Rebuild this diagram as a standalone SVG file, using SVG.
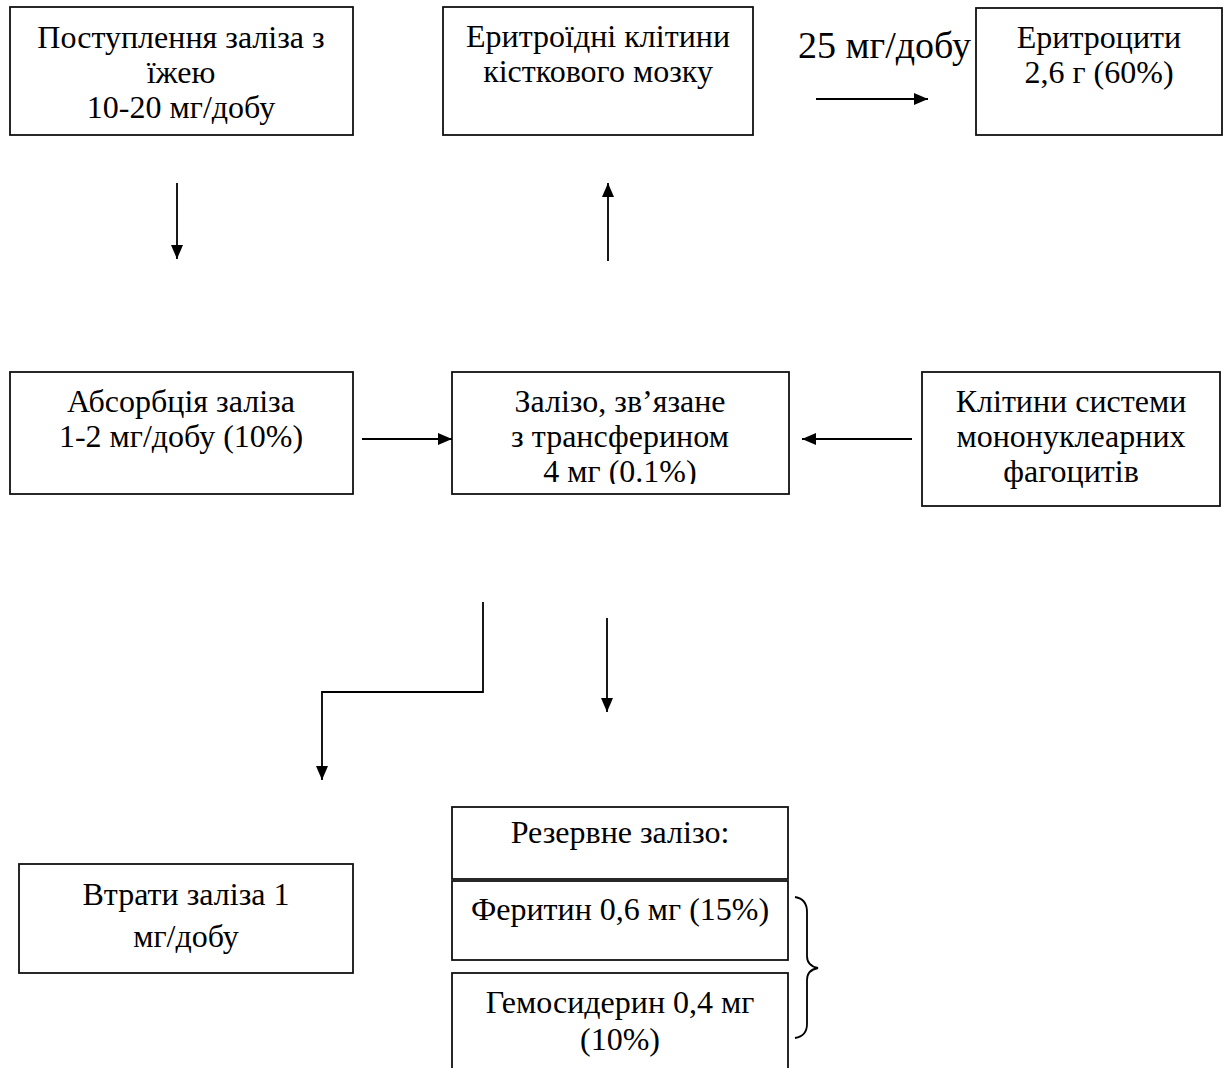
<svg xmlns="http://www.w3.org/2000/svg" width="1227" height="1068" viewBox="0 0 1227 1068">
<style>
.box{fill:#fff;stroke:#111;stroke-width:1.8}
.t{font-family:"Liberation Serif","Times New Roman",serif;font-size:32px;fill:#000;text-anchor:middle}
.big{font-size:38px;text-anchor:start}
.c{fill:none;stroke:#000;stroke-width:1.8}
</style>
<defs>
<marker id="ah" viewBox="0 0 14 12" refX="14" refY="6" markerWidth="14" markerHeight="12" markerUnits="userSpaceOnUse" orient="auto">
<path d="M0,0 L14,6 L0,12 Z" fill="#000"/>
</marker>
<clipPath id="clipZ"><rect x="452" y="372" width="337" height="112"/></clipPath>
</defs>
<rect width="1227" height="1068" fill="#fff"/>
<g id="n-intake">
<rect class="box" x="10" y="7" width="343" height="128"/>
<text class="t" x="181" y="48">Поступлення заліза з</text>
<text class="t" x="181" y="83">їжею</text>
<text class="t" x="181" y="118">10-20 мг/добу</text>
</g>
<g id="n-erythroid">
<rect class="box" x="443" y="7" width="310" height="128"/>
<text class="t" x="598" y="47">Еритроїдні клітини</text>
<text class="t" x="598" y="82">кісткового мозку</text>
</g>
<g id="n-rbc">
<rect class="box" x="976" y="8" width="246" height="127"/>
<text class="t" x="1099" y="48">Еритроцити</text>
<text class="t" x="1099" y="83">2,6 г (60%)</text>
</g>
<g id="n-absorb">
<rect class="box" x="10" y="372" width="343" height="122"/>
<text class="t" x="181" y="412">Абсорбція заліза</text>
<text class="t" x="181" y="447">1-2 мг/добу (10%)</text>
</g>
<g id="n-transferrin">
<rect class="box" x="452" y="372" width="337" height="122"/>
<g clip-path="url(#clipZ)">
<text class="t" x="620" y="412">Залізо, зв’язане</text>
<text class="t" x="620" y="447">з трансферином</text>
<text class="t" x="620" y="482">4 мг (0.1%)</text>
</g>
</g>
<g id="n-mps">
<rect class="box" x="922" y="372" width="298" height="134"/>
<text class="t" x="1071" y="412">Клітини системи</text>
<text class="t" x="1071" y="447">мононуклеарних</text>
<text class="t" x="1071" y="482">фагоцитів</text>
</g>
<g id="n-loss">
<rect class="box" x="19" y="864" width="334" height="109"/>
<text class="t" x="186" y="905">Втрати заліза 1</text>
<text class="t" x="186" y="947">мг/добу</text>
</g>
<g id="n-reserve">
<rect class="box" x="452" y="807" width="336" height="72"/>
<text class="t" x="620" y="843">Резервне залізо:</text>
</g>
<g id="n-ferritin">
<rect class="box" x="452" y="881" width="336" height="79"/>
<text class="t" x="620" y="920">Феритин 0,6 мг (15%)</text>
</g>
<g id="n-hemosiderin">
<rect class="box" x="452" y="973" width="336" height="100"/>
<text class="t" x="620" y="1013">Гемосидерин 0,4 мг</text>
<text class="t" x="620" y="1050">(10%)</text>
</g>
<g id="connectors">
<line class="c" x1="177" y1="183" x2="177" y2="259" marker-end="url(#ah)"/>
<line class="c" x1="608" y1="261" x2="608" y2="183" marker-end="url(#ah)"/>
<line class="c" x1="816" y1="99" x2="928" y2="99" marker-end="url(#ah)"/>
<line class="c" x1="362" y1="439" x2="452" y2="439" marker-end="url(#ah)"/>
<line class="c" x1="912" y1="439" x2="802" y2="439" marker-end="url(#ah)"/>
<polyline class="c" points="483,602 483,692 322,692 322,780" marker-end="url(#ah)"/>
<line class="c" x1="607" y1="618" x2="607" y2="712" marker-end="url(#ah)"/>
<path class="c" stroke-width="1.3" d="M795,897 Q807,899 807,912 L807,956 Q807,966 818,968 Q807,970 807,980 L807,1024 Q807,1036 795,1038"/>
<text class="t big" x="798" y="58">25 мг/добу</text>
</g>
</svg>
